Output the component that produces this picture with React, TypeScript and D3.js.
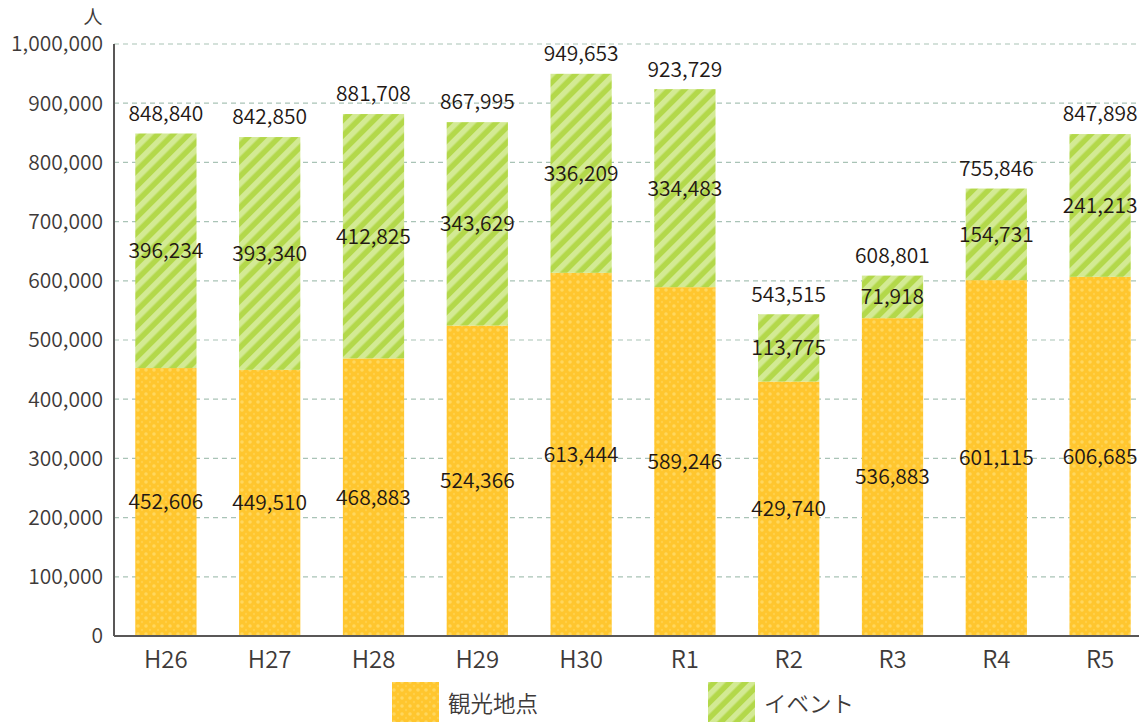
import React from 'react'
import * as d3 from 'd3'

const categories = ['H26', 'H27', 'H28', 'H29', 'H30', 'R1', 'R2', 'R3', 'R4', 'R5']
const sightseeing = [452606, 449510, 468883, 524366, 613444, 589246, 429740, 536883, 601115, 606685]
const events = [396234, 393340, 412825, 343629, 336209, 334483, 113775, 71918, 154731, 241213]
const totals = [848840, 842850, 881708, 867995, 949653, 923729, 543515, 608801, 755846, 847898]
const yTicks = [0, 100000, 200000, 300000, 400000, 500000, 600000, 700000, 800000, 900000, 1000000]
const legendNames = ['観光地点', 'イベント']

const FONT = '"Noto Sans CJK JP", "Noto Sans", sans-serif'
const fmt = d3.format(',')

const App: React.FC = () => {
  const W = 1139
  const H = 722
  const left = 114
  const top = 44
  const bottom = 636

  const x = d3.scaleBand<string>()
    .domain(categories)
    .range([left, 1152])
    .paddingInner(0.41)
    .paddingOuter(0.205)

  const y = d3.scaleLinear().domain([0, 1000000]).range([bottom, top])

  return (
    <svg width={W} height={H} style={{ position: 'absolute', left: 0, top: 0, fontFamily: FONT, fontWeight: 350 }}>
      <defs>
        <pattern id="dots" width="8" height="8" patternUnits="userSpaceOnUse">
          <rect width="8" height="8" fill="#ffc62e" />
          <circle cx="2" cy="2" r="1.8" fill="#ffd75e" />
          <circle cx="6" cy="6" r="1.2" fill="#ffd048" />
        </pattern>
        <pattern id="stripes" width="11" height="11" patternUnits="userSpaceOnUse" patternTransform="rotate(45)">
          <rect width="11" height="11" fill="#b3d84a" />
          <rect width="5.5" height="11" fill="#d3ea94" />
        </pattern>
      </defs>

      {/* grid lines */}
      {yTicks.filter(t => t > 0).map(t => (
        <line key={t} x1={left} x2={W} y1={y(t)} y2={y(t)}
          stroke="#a9c3b6" strokeWidth={1.2} strokeDasharray="5,4" />
      ))}

      {/* bars */}
      {categories.map((c, i) => {
        const bx = x(c)!
        const bw = x.bandwidth()
        const s = sightseeing[i]
        const e = events[i]
        const cx = bx + bw / 2
        return (
          <g key={c}>
            <rect x={bx} y={y(s)} width={bw} height={y(0) - y(s)} fill="url(#dots)" />
            <rect x={bx} y={y(s + e)} width={bw} height={y(s) - y(s + e)} fill="url(#stripes)" />
            <text x={cx} y={y(s / 2)} dy="0.35em" textAnchor="middle" fontSize={21} fill="#231815">{fmt(s)}</text>
            <text x={cx} y={y(s + e / 2)} dy="0.35em" textAnchor="middle" fontSize={21} fill="#231815">{fmt(e)}</text>
            <text x={cx} y={y(totals[i]) - 20} dy="0.35em" textAnchor="middle" fontSize={21} fill="#231815">{fmt(totals[i])}</text>
            <text x={cx} y={660} dy="0.35em" textAnchor="middle" fontSize={24} fill="#3e3a39">{c}</text>
          </g>
        )
      })}

      {/* axes */}
      <line x1={left} x2={left} y1={top} y2={bottom} stroke="#595757" strokeWidth={2} />
      <line x1={left} x2={W} y1={bottom} y2={bottom} stroke="#595757" strokeWidth={2} />
      {yTicks.map(t => (
        <text key={t} x={103} y={y(t)} dy="0.35em" textAnchor="end" fontSize={21} fill="#3e3a39">{fmt(t)}</text>
      ))}
      <text x={93} y={24} textAnchor="middle" fontSize={19} fill="#3e3a39">人</text>

      {/* legend */}
      <rect x={392} y={682} width={47} height={40} fill="url(#dots)" />
      <text x={448} y={704} dy="0.35em" fontSize={22.5} fill="#3e3a39">{legendNames[0]}</text>
      <rect x={708} y={682} width={47} height={40} fill="url(#stripes)" />
      <text x={764} y={704} dy="0.35em" fontSize={22.5} fill="#3e3a39">{legendNames[1]}</text>
    </svg>
  )
}

export default App
